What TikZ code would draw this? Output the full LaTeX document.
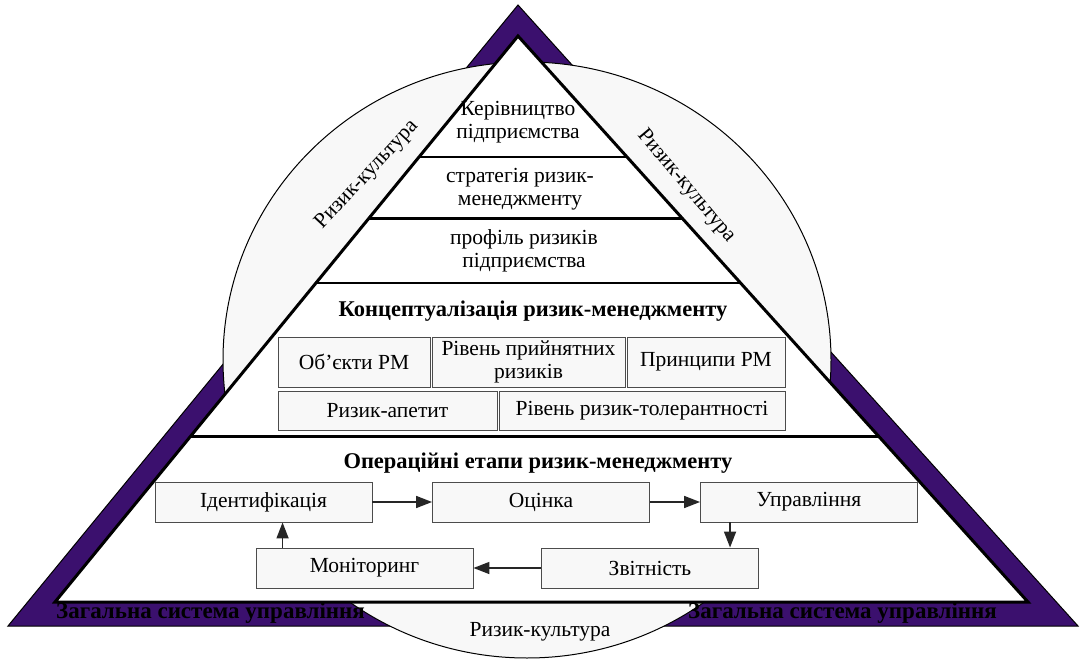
\documentclass[tikz,border=0pt]{standalone}
\usepackage{fontspec}
\setmainfont{Liberation Serif}
\usetikzlibrary{arrows.meta,calc,positioning}
\definecolor{bandpurple}{RGB}{59,16,110}
\definecolor{culturegray}{RGB}{248,248,248}

\begin{document}
\begin{tikzpicture}[
    x=1pt, y=-1pt,
    font=\fontsize{21.5}{23.5}\selectfont,
    stage/.style={rectangle, draw=black!70, line width=0.9pt, fill=culturegray,
                  minimum width=217pt, minimum height=40pt, inner sep=1pt, align=center},
    concept/.style={stage, minimum height=50pt},
    levelline/.style={line width=2.5pt, black},
    flow/.style={-{Triangle[length=16pt,width=12pt]}, line width=1.6pt, black!85},
    tier/.style={align=center, inner sep=0pt},
    heading/.style={font=\fontsize{22.5}{25}\selectfont\bfseries},
    band/.style={font=\fontsize{23}{25}\selectfont\bfseries, anchor=west, inner sep=0pt}
]

\useasboundingbox (0,0) rectangle (1080,661);

% ---- Outer band ----
\coordinate (ot) at (518,5);
\coordinate (ol) at (8,626);
\coordinate (or) at (1078,626);
\draw[fill=bandpurple, line width=1pt] (ol) -- (ot) -- (or) -- cycle;

% ---- Risk culture ----
\draw[fill=culturegray, line width=1pt] (527,360) ellipse [x radius=304, y radius=298];

% ---- Pyramid ----
\coordinate (it) at (518,36);
\coordinate (il) at (55,602);
\coordinate (ir) at (1028,602);
\draw[fill=white, line width=3pt, line join=miter] (il) -- (it) -- (ir) -- cycle;
\foreach \t in {0.214,0.322,0.436,0.708}
    \draw[levelline] ($(it)!\t!(il)$) -- ($(it)!\t!(ir)$);

% ---- Top levels ----
\node[tier] (board) at (518,122) {Керівництво\\підприємства};
\node[tier] (strategy) at (520,189) {стратегія ризик-\\менеджменту};
\node[tier] (profile) at (524,251) {профіль ризиків\\підприємства};

% ---- Conceptualisation ----
\node[heading] (concepttitle) at (533,311) {Концептуалізація ризик-менеджменту};
\node[concept, minimum width=152pt] (objects) at (354,362) {Об'єкти РМ};
\node[concept, minimum width=193pt] (accept) at (528.5,362) {Рівень прийнятних\\ризиків};
\node[concept, minimum width=158pt] (principles) at (706,362) {Принципи РМ};
\node[stage, minimum width=219pt, minimum height=39pt] (appetite) at (387.5,410.5) {Ризик-апетит};
\node[stage, minimum width=286pt, minimum height=39pt] (tolerance) at (642,410.5) {Рівень ризик-толерантності};

% ---- Operational stages ----
\node[heading] (optitle) at (538,463) {Операційні етапи ризик-менеджменту};
\node[stage] (ident) at (263.5,502) {Ідентифікація};
\node[stage] (assess) at (541,502) {Оцінка};
\node[stage] (manage) at (809,502) {Управління};
\node[stage] (report) at (650,568) {Звітність};
\node[stage] (monitor) at (364.5,568) {Моніторинг};

\draw[flow] (ident) -- (assess);
\draw[flow] (assess) -- (manage);
\draw[flow] ([xshift=30pt]manage.south west) -- ([xshift=30pt]manage.south west |- report.north);
\draw[flow] (report) -- (monitor);
\draw[flow] ([xshift=27pt]monitor.north west) -- ([xshift=27pt]monitor.north west |- ident.south);

% ---- Labels ----
\node[rotate=47] (cultureleft) at (367,175) {Ризик-культура};
\node[rotate=-50] (cultureright) at (686,186) {Ризик-культура};
\node (culturebottom) at (540,632) {Ризик-культура};
\node[band] (systemleft) at (56,613) {Загальна система управління};
\node[band] (systemright) at (688,613) {Загальна система управління};

\end{tikzpicture}
\end{document}
